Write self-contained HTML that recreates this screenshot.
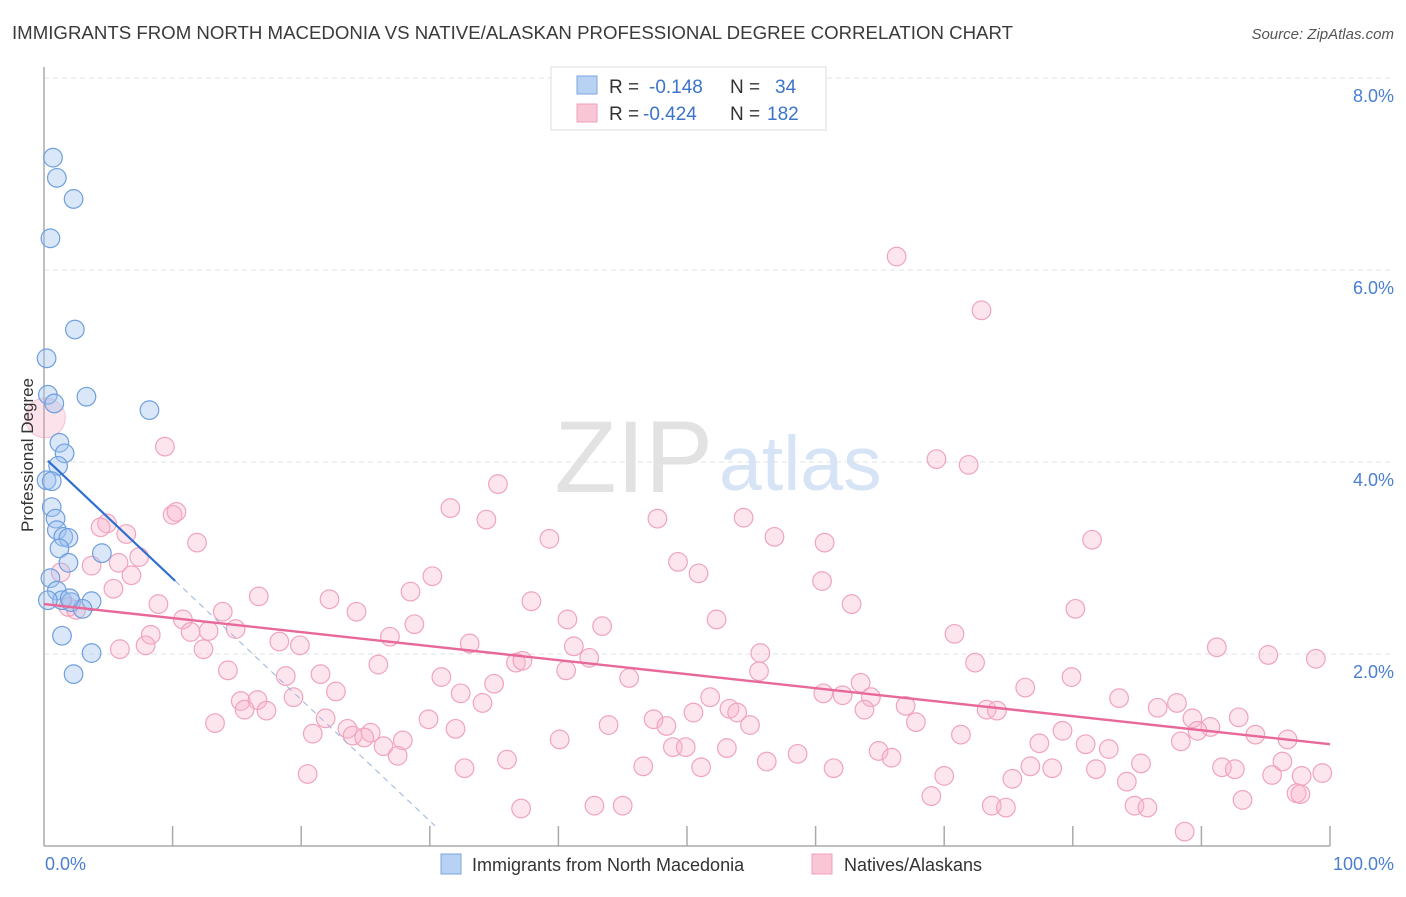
<!DOCTYPE html>
<html><head><meta charset="utf-8"><style>
body{margin:0;background:#fff;font-family:"Liberation Sans",sans-serif}
svg text{font-family:"Liberation Sans",sans-serif}
</style></head><body>
<svg id="chart" width="1406" height="892" xmlns="http://www.w3.org/2000/svg">
<text x="12" y="39" font-size="18.6" fill="#3a3a3a" textLength="1001" lengthAdjust="spacingAndGlyphs">IMMIGRANTS FROM NORTH MACEDONIA VS NATIVE/ALASKAN PROFESSIONAL DEGREE CORRELATION CHART</text>
<text x="1394" y="39" font-size="15" fill="#555" font-style="italic" text-anchor="end">Source: ZipAtlas.com</text>
<g id="grid"></g>
<text x="713" y="492" font-size="102" fill="#e2e2e2" font-family="Liberation Serif" text-anchor="end">ZIP</text>
<text x="719" y="490" font-size="77" fill="#d6e4f5">atlas</text>
<g id="axes"></g>
<g id="pink"></g>
<g id="blue"></g>
<g id="trends"></g>
<text x="33" y="455" font-size="17" fill="#333" text-anchor="middle" transform="rotate(-90 33 455)">Professional Degree</text>
<text x="45" y="870" font-size="18" fill="#4a7fd0">0.0%</text>
<text x="1394" y="870" font-size="18" fill="#4a7fd0" text-anchor="end">100.0%</text>
<g>
<rect x="551" y="67" width="275" height="63" fill="#fff" stroke="#ddd"/>
<rect x="577" y="76" width="20" height="18" fill="#b8d2f4" stroke="#7aa6e0"/>
<rect x="577" y="104" width="20" height="18" fill="#f9c6d6" stroke="#f0a0b8"/>
<text x="609" y="93" font-size="19" fill="#333">R =</text>
<text x="649" y="93" font-size="19" fill="#3c74c8">-0.148</text>
<text x="730" y="93" font-size="19" fill="#333">N =</text>
<text x="775" y="93" font-size="19" fill="#3c74c8">34</text>
<text x="609" y="120" font-size="19" fill="#333">R =</text>
<text x="643" y="120" font-size="19" fill="#3c74c8">-0.424</text>
<text x="730" y="120" font-size="19" fill="#333">N =</text>
<text x="767" y="120" font-size="19" fill="#3c74c8">182</text>
</g>
<g>
<rect x="441" y="854" width="20" height="20" fill="#b8d2f4" stroke="#7aa6e0"/>
<text x="472" y="871" font-size="18" fill="#333">Immigrants from North Macedonia</text>
<rect x="812" y="854" width="20" height="20" fill="#f9c6d6" stroke="#f0a0b8"/>
<text x="844" y="871" font-size="18" fill="#333">Natives/Alaskans</text>
</g>
</svg>
<script>
const yTicks=[2,4,6,8];
const yTickLabels=["2.0%","4.0%","6.0%","8.0%"];
const xTicks=[10,20,30,40,50,60,70,80,90,100];
const blueX=[0.7,1.0,2.3,0.5,2.4,0.2,0.3,0.8,3.3,8.2,1.2,1.6,1.1,0.2,0.6,0.6,0.9,1.0,1.5,1.9,1.2,4.5,1.9,0.5,1.0,1.4,2.1,3.7,3.0,1.4,3.7,2.3,0.3,2.0];
const blueY=[7.17,6.96,6.74,6.33,5.38,5.08,4.70,4.61,4.68,4.54,4.20,4.09,3.96,3.81,3.80,3.53,3.41,3.29,3.22,3.21,3.10,3.05,2.95,2.79,2.66,2.56,2.54,2.55,2.47,2.19,2.01,1.79,2.56,2.58];
const pinkX=[9.4,35.3,31.6,34.4,10.0,10.3,4.9,4.4,6.4,11.9,39.3,47.7,54.4,56.8,60.7,81.5,7.4,3.7,5.8,49.3,6.8,50.9,30.2,1.3,60.5,69.4,71.9,66.3,72.9,5.4,16.7,22.2,28.5,37.9,8.9,1.9,2.5,24.3,10.8,13.9,40.7,43.4,62.8,80.2,52.3,28.8,14.9,12.8,11.4,8.3,26.9,18.3,33.1,41.2,12.4,19.9,7.9,5.9,70.8,91.2,95.2,98.9,55.7,42.4,26.0,36.7,37.2,40.6,14.3,72.4,21.5,18.8,30.9,45.5,79.9,55.6,35.0,76.3,63.5,22.7,32.4,19.4,51.8,64.3,83.6,60.6,62.1,15.3,16.6,34.1,88.1,86.6,15.6,17.3,53.3,53.9,63.8,50.5,73.3,74.1,67.0,13.3,21.9,29.9,47.4,89.3,92.9,54.9,67.8,90.7,20.9,23.6,25.4,24.0,24.9,27.9,26.4,32.0,40.1,43.9,48.4,79.2,89.7,94.2,96.7,88.4,48.9,49.9,53.1,58.6,64.9,77.4,81.0,71.3,82.8,27.5,36.0,65.9,76.7,78.4,56.2,46.6,51.1,61.4,81.8,85.3,91.6,92.6,96.3,20.5,32.7,70.0,75.3,84.2,95.5,97.8,99.4,69.0,73.7,74.8,84.8,85.8,93.2,97.4,97.7,37.1,42.8,45.0,88.7];
const pinkY=[4.16,3.77,3.52,3.40,3.45,3.48,3.36,3.32,3.25,3.16,3.20,3.41,3.42,3.22,3.16,3.19,3.01,2.92,2.95,2.96,2.82,2.84,2.81,2.85,2.76,4.03,3.97,6.14,5.58,2.68,2.60,2.57,2.65,2.55,2.52,2.49,2.46,2.44,2.36,2.44,2.36,2.29,2.52,2.47,2.36,2.31,2.26,2.24,2.23,2.20,2.18,2.13,2.11,2.08,2.05,2.09,2.09,2.05,2.21,2.07,1.99,1.95,2.01,1.96,1.89,1.91,1.93,1.83,1.83,1.91,1.79,1.77,1.76,1.75,1.76,1.82,1.69,1.65,1.70,1.61,1.59,1.55,1.55,1.55,1.54,1.59,1.57,1.51,1.52,1.49,1.49,1.44,1.42,1.41,1.43,1.39,1.42,1.39,1.42,1.41,1.46,1.28,1.33,1.32,1.32,1.33,1.34,1.26,1.29,1.24,1.17,1.22,1.18,1.15,1.13,1.10,1.04,1.22,1.11,1.26,1.25,1.20,1.20,1.16,1.11,1.09,1.03,1.03,1.02,0.96,0.99,1.07,1.06,1.16,1.01,0.94,0.90,0.92,0.83,0.81,0.88,0.83,0.82,0.81,0.80,0.86,0.82,0.80,0.88,0.75,0.81,0.73,0.70,0.67,0.74,0.73,0.76,0.52,0.42,0.40,0.42,0.40,0.48,0.55,0.54,0.39,0.42,0.42,0.15];
const blueTrend=[4.05,-0.1263];
const pinkTrend=[2.52,-0.0146];
const X=v=>44+12.86*v, Y=v=>846-96*v;
const NS="http://www.w3.org/2000/svg";
function mk(t,a,p){const e=document.createElementNS(NS,t);for(const k in a)e.setAttribute(k,a[k]);p.appendChild(e);return e;}
const grid=document.getElementById('grid');
yTicks.forEach((v,i)=>{
 const l=mk('line',{x1:44,x2:1394,y1:Y(v),y2:Y(v),stroke:'#e2e2e2','stroke-dasharray':'5,4'},grid);
 
 
 const t=mk('text',{x:1394,y:Y(v)+24,'font-size':18,fill:'#4a7fd0','text-anchor':'end'},grid);
 t.textContent=yTickLabels[i];
 
 
});
const ax=document.getElementById('axes');
mk('line',{x1:44,x2:44,y1:67,y2:846,stroke:'#aaa','stroke-width':1.5},ax);
mk('line',{x1:44,x2:1330,y1:846,y2:846,stroke:'#aaa','stroke-width':1.5},ax);
xTicks.forEach(v=>{const t=mk('line',{x1:X(v),x2:X(v),y1:826,y2:846,stroke:'#aaa','stroke-width':1.5},ax);
 
 });
const pg=document.getElementById('pink');
const bigP=mk('circle',{cx:X(0.1),cy:Y(4.46),r:20,fill:'rgba(244,160,190,0.3)',stroke:'rgba(240,150,180,0.5)'},pg);


pinkX.forEach((v,i)=>{const c=mk('circle',{cx:X(v),cy:Y(pinkY[i]),r:9.3,fill:'rgba(248,180,202,0.35)',stroke:'#f0a4bc','stroke-width':1.2},pg);
 
 });
const bg=document.getElementById('blue');
blueX.forEach((v,i)=>{const c=mk('circle',{cx:X(v),cy:Y(blueY[i]),r:9.3,fill:'rgba(160,196,240,0.4)',stroke:'#6f9fde','stroke-width':1.2},bg);
 
 });
const tg=document.getElementById('trends');
const bt=x=>blueTrend[0]+blueTrend[1]*x, pt=x=>pinkTrend[0]+pinkTrend[1]*x;
const l1=mk('line',{x1:X(0.3),y1:Y(bt(0.3)),x2:X(10.2),y2:Y(bt(10.2)),stroke:'#2f6fd0','stroke-width':2.2},tg);


const l2=mk('line',{x1:X(10.2),y1:Y(bt(10.2)),x2:X(30.4),y2:Y(bt(30.4)),stroke:'#9ab4da','stroke-width':1,'stroke-dasharray':'6,5'},tg);


const l3=mk('line',{x1:X(0),y1:Y(pt(0)),x2:X(100),y2:Y(pt(100)),stroke:'#e8689a','stroke-width':2.4},tg);


</script>
</body></html>
